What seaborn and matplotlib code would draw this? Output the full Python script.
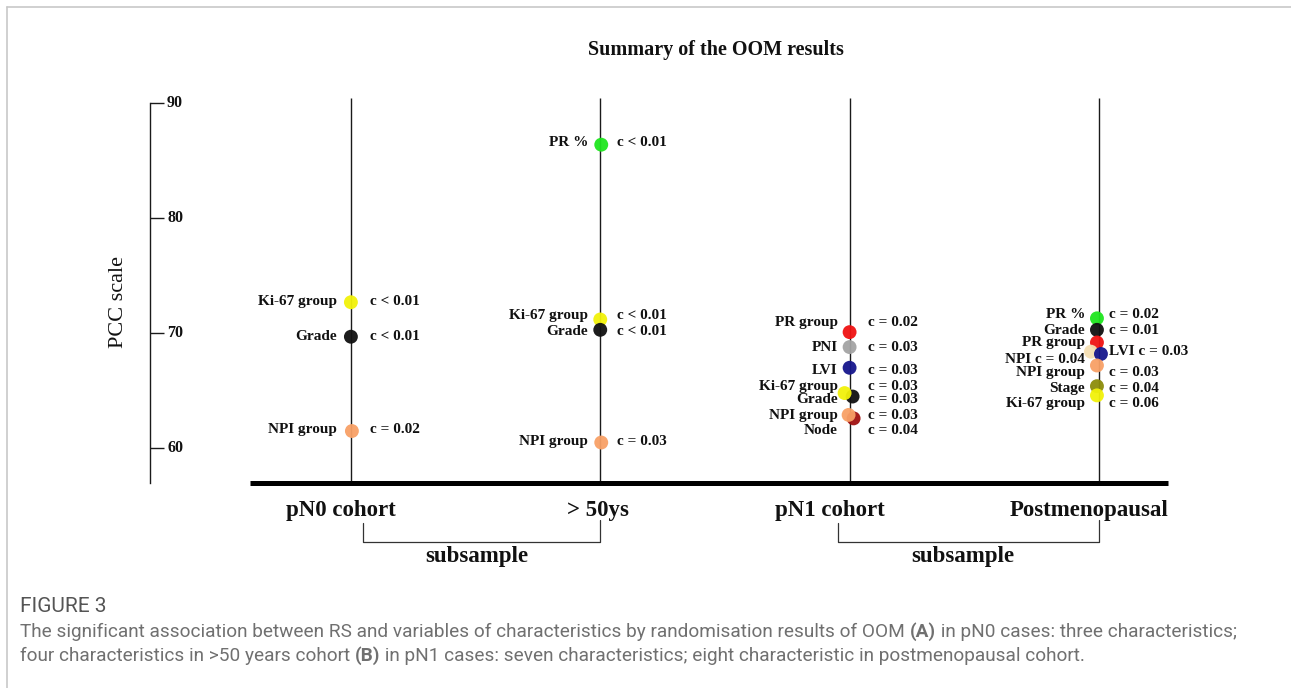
import numpy as np
import pandas as pd
import matplotlib
matplotlib.use('Agg')
import matplotlib.pyplot as plt
import matplotlib.transforms as mtransforms
from matplotlib.lines import Line2D
import seaborn as sns

sns.set_theme(style='white')
plt.rcParams['font.family'] = ['Liberation Serif', 'DejaVu Serif']

# ---- data ----
cohorts = ['pN0 cohort', '> 50ys', 'pN1 cohort', 'Postmenopausal']
cohort_of = [0, 0, 0,
             1, 1, 1, 1,
             2, 2, 2, 2, 2, 2, 2,
             3, 3, 3, 3, 3, 3, 3, 3]
variable = ['Ki-67 group', 'Grade', 'NPI group',
            'PR %', 'Ki-67 group', 'Grade', 'NPI group',
            'PR group', 'PNI', 'LVI', 'Grade', 'Ki-67 group', 'Node', 'NPI group',
            'PR %', 'Grade', 'PR group', 'NPI', 'LVI', 'NPI group', 'Stage', 'Ki-67 group']
pcc = [72.7, 69.7, 61.5,
       86.4, 71.2, 70.3, 60.5,
       70.1, 68.8, 67.0, 64.5, 64.8, 62.6, 62.9,
       71.3, 70.3, 69.2, 68.4, 68.2, 67.2, 65.4, 64.6]
left_text = ['Ki-67 group', 'Grade', 'NPI group',
             'PR %', 'Ki-67 group', 'Grade', 'NPI group',
             'PR group', 'PNI', 'LVI', 'Grade', 'Ki-67 group', 'Node', 'NPI group',
             'PR %', 'Grade', 'PR group', 'NPI c = 0.04', '', 'NPI group', 'Stage', 'Ki-67 group']
c_text = ['c < 0.01', 'c < 0.01', 'c = 0.02',
          'c < 0.01', 'c < 0.01', 'c < 0.01', 'c = 0.03',
          'c = 0.02', 'c = 0.03', 'c = 0.03', 'c = 0.03', 'c = 0.03', 'c = 0.04', 'c = 0.03',
          'c = 0.02', 'c = 0.01', '', '', 'LVI c = 0.03', 'c = 0.03', 'c = 0.04', 'c = 0.06']
# label heights (labels were spread apart where the dots crowd)
label_y = [72.75, 69.7, 61.6,
           86.6, 71.55, 70.17, 60.57,
           70.96, 68.74, 66.74, 64.2, 65.39, 61.53, 62.85,
           71.59, 70.23, 69.16, 67.68, 68.4, 66.55, 65.24, 63.91]
# small sideways nudges of crowded dots, in pixels
dot_dx = [0, 0, 1,
          1, 0, 0, 1,
          0, 0, 0, 3, -5, 4, -1,
          -2, -2, -2, -8, 2, -2, -2, -2]

palette = {'Ki-67 group': '#f2f20a', 'Grade': '#111111', 'NPI group': '#f8a066',
           'PR %': '#1ee61e', 'PR group': '#f01212', 'PNI': '#a3a3a3',
           'LVI': '#16168c', 'Node': '#a01010', 'NPI': '#f5dfb2', 'Stage': '#8c8c0a'}

yticks = [60, 70, 80, 90]

# ---- layout (pixels of the 1291x688 canvas) ----
W, H = 1291, 688
px_unit = 249.35
x0_px = 350.9
ax_l, ax_r, ax_t, ax_b = 150, 1168, 98, 483
y_lo, y_hi = 56.98, 90.46
left_gap = [14, 12, 12, 14]
right_gap = [19, 17, 18, 10]
cat_dx = [-0.04, -0.01, -0.08, -0.04]

fig = plt.figure(figsize=(W / 100, H / 100), dpi=100)
fig.patch.set_facecolor('white')
ax = fig.add_axes([ax_l / W, (H - ax_b) / H, (ax_r - ax_l) / W, (ax_b - ax_t) / H])
ax.set_facecolor('none')

df = pd.DataFrame({'cohort': cohort_of, 'variable': variable, 'pcc': pcc})
df['x'] = df['cohort'] + np.array(dot_dx) / px_unit

ax.vlines(range(len(cohorts)), y_lo, y_hi, color='#1a1a1a', lw=1.0, zorder=1)
sns.scatterplot(data=df, x='x', y='pcc', hue='variable', palette=palette,
                s=100, linewidth=0, alpha=0.95, legend=False, ax=ax, zorder=3)

ax.set_xlim((ax_l - x0_px) / px_unit, (ax_r - x0_px) / px_unit)
ax.set_ylim(y_lo, y_hi)
ax.set_xlabel('')
ax.set_ylabel('')
ax.set_xticks([])
ax.set_yticks(yticks)
ax.tick_params(axis='y', direction='in', length=10, width=1.0, colors='#1a1a1a',
               left=True, labelleft=False)
for s in ['top', 'right', 'bottom']:
    ax.spines[s].set_visible(False)
ax.spines['left'].set_bounds(y_lo, 90)
ax.spines['left'].set_color('#1a1a1a')
ax.spines['left'].set_linewidth(1.0)

for t in yticks:
    ax.text(0.0167, t, str(t), transform=mtransforms.blended_transform_factory(ax.transAxes, ax.transData),
            ha='left', va='center', fontsize=11.5, fontweight='bold', color='#111')

ax.text(-0.031, 0.47, 'PCC scale', transform=ax.transAxes, rotation=90,
        ha='center', va='center', fontsize=16, color='#111')

# thick base line
ax.plot([(250 - x0_px) / px_unit, (ax_r - x0_px) / px_unit], [y_lo, y_lo],
        color='black', lw=3.6, solid_capstyle='butt', clip_on=False, zorder=4)

# point labels
for i in range(len(pcc)):
    c = cohort_of[i]
    if left_text[i]:
        ax.annotate(left_text[i], (c, label_y[i]), xytext=(-left_gap[c], 0),
                    textcoords='offset pixels', ha='right', va='center',
                    fontsize=11, fontweight='bold', color='#111', zorder=5)
    if c_text[i]:
        ax.annotate(c_text[i], (c, label_y[i]), xytext=(right_gap[c], 0),
                    textcoords='offset pixels', ha='left', va='center',
                    fontsize=11, fontweight='bold', color='#111', zorder=5)

# cohort names and subsample brackets
blend = mtransforms.blended_transform_factory(ax.transData, ax.transAxes)
for k, name in enumerate(cohorts):
    ax.text(k + cat_dx[k], -0.0727, name, transform=blend, ha='center', va='center',
            fontsize=16.5, fontweight='bold', color='#111')

for a, b in [(0, 1), (2, 3)]:
    xa = a + (362 - 349.5) / px_unit if a == 0 else a + (841 - 853) / px_unit
    ya = -0.104
    yb = -0.152
    ax.plot([xa, xa, b, b], [ya, yb, yb, ya + 0.008], transform=blend,
            color='#333', lw=0.9, clip_on=False)
    ax.text((xa + b) / 2 - 0.02, -0.19, 'subsample', transform=blend,
            ha='center', va='center', fontsize=16.5, fontweight='bold', color='#111')

fig.text(716 / W, 1 - 50 / H, 'Summary of the OOM results', ha='center', va='center',
         fontsize=14.5, fontweight='bold', color='#111')

# card border
fig.add_artist(Line2D([7 / W, 1], [1 - 7 / H, 1 - 7 / H], transform=fig.transFigure,
                      color='#c8c8c8', lw=1.2))
fig.add_artist(Line2D([7 / W, 7 / W], [0, 1 - 7 / H], transform=fig.transFigure,
                      color='#c8c8c8', lw=1.2))

# caption
cap_fonts = ['Liberation Sans Narrow', 'Roboto', 'DejaVu Sans']
line1 = [('The significant association between RS and variables of characteristics by '
          'randomisation results of OOM ', 'normal'), ('(A)', 'bold'),
         (' in pN0 cases: three characteristics;', 'normal')]
line2 = [('four characteristics in >50 years cohort ', 'normal'), ('(B)', 'bold'),
         (' in pN1 cases: seven characteristics; eight characteristic in postmenopausal cohort.',
          'normal')]

renderer = fig.canvas.get_renderer()
probe = fig.text(0, 0, ''.join(t for t, _ in line1), fontsize=10, family=cap_fonts)
cap_size = 10 * 1215 / probe.get_window_extent(renderer=renderer).width
probe.remove()


def draw_runs(x_px, y_px, runs, size, color):
    x = x_px
    for txt, weight in runs:
        t = fig.text(x / W, 1 - y_px / H, txt, fontsize=size, fontweight=weight,
                     color=color, ha='left', va='center', family=cap_fonts)
        x += t.get_window_extent(renderer=renderer).width


draw_runs(20, 606, [('FIGURE 3', 'normal')], cap_size * 1.1, '#555555')
draw_runs(20, 632, line1, cap_size, '#707070')
draw_runs(20, 656, line2, cap_size, '#707070')

fig.savefig('out.png', dpi=100, facecolor='white')
